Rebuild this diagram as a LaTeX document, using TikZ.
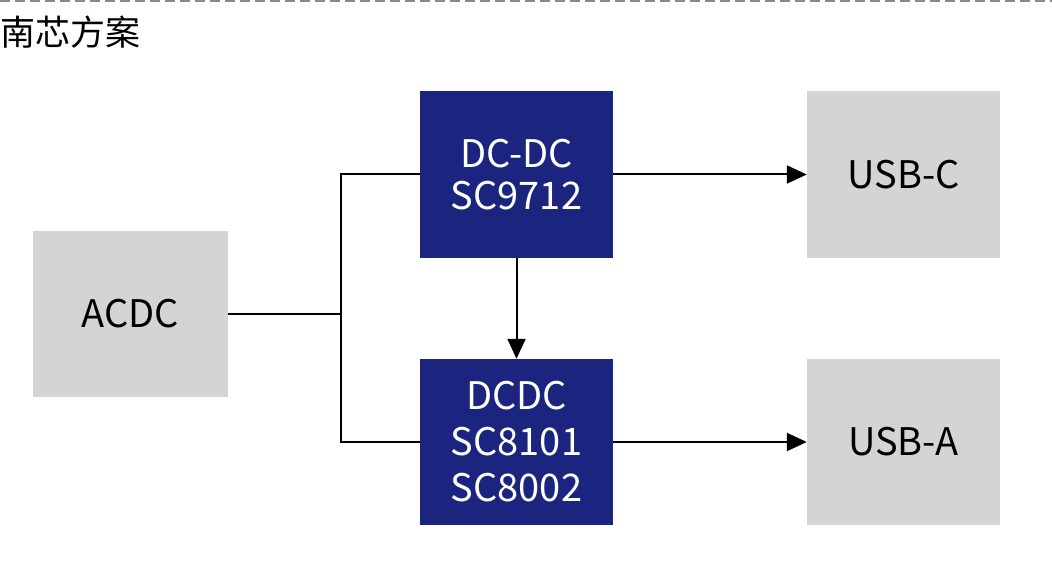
\documentclass[tikz,border=0pt]{standalone}
\usepackage{fontspec}
\setmainfont{Noto Sans CJK SC}
\usetikzlibrary{arrows.meta}
\definecolor{navy}{HTML}{1B257F}
\definecolor{lgray}{HTML}{D4D4D4}
\definecolor{dgray}{HTML}{8A8A8A}
\tikzset{
  graybox/.style={fill=lgray, draw=none, minimum width=195pt, minimum height=166pt, inner sep=0pt, align=center, text=black, font=\fontsize{38}{44}\selectfont},
  navybox/.style={fill=navy, draw=none, minimum width=193pt, minimum height=166pt, inner sep=0pt, align=center, text=white, font=\fontsize{38}{44}\selectfont},
  conn/.style={line width=2pt, black},
  arr/.style={conn, -{Triangle[length=20pt,width=18pt]}},
}
\begin{document}
\begin{tikzpicture}[x=1pt,y=-1pt]
\useasboundingbox (0,0) rectangle (1052,588);
\draw[dgray, line width=2pt, dash pattern=on 10pt off 5pt] (0,1) -- (1052,1);
\node[anchor=west, inner sep=0pt, font=\fontsize{35}{35}\selectfont] (title) at (0,32) {南芯方案};
\node[graybox] (acdc) at (130.5,314) {ACDC};
\node[navybox, font=\fontsize{38}{42}\selectfont] (dc1) at (516.5,174.5) {DC-DC\\SC9712};
\node[navybox, font=\fontsize{38}{46}\selectfont] (dc2) at (516.5,442) {DCDC\\SC8101\\SC8002};
\node[graybox, minimum width=193pt] (usbc) at (903.5,174.5) {USB-C};
\node[graybox, minimum width=193pt] (usba) at (903.5,442) {USB-A};
\coordinate (split) at (341,314);
\draw[conn] (acdc.east) -- (split);
\draw[conn] (dc1.west) -| (split) |- (dc2.west);
\draw[arr] (dc1.south) -- (dc2.north);
\draw[arr] (dc1.east) -- (usbc.west);
\draw[arr] (dc2.east) -- (usba.west);
\end{tikzpicture}
\end{document}
